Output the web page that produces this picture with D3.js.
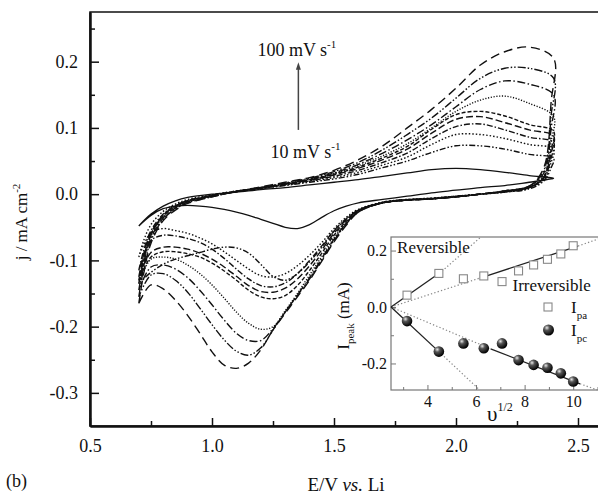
<!DOCTYPE html>
<html lang="en">
<head>
<meta charset="UTF-8">
<title>CV at different scan rates</title>
<script src="https://d3js.org/d3.v7.min.js"></script>
<style>
  body { margin: 0; background: #fff; }
  svg text { font-family: "Liberation Serif", "Times New Roman", serif; fill: #111; }
</style>
</head>
<body>
<div id="chart"></div>
<script>
// scan rates, mV s-1 (one CV loop each)
const scanRates = [10, 20, 30, 40, 50, 60, 70, 80, 90, 100];

// anodic sweep, E in V vs Li, j in mA cm-2 (one row per scan rate)
const anodicE = [0.70, 0.72, 0.75, 0.80, 0.85, 0.90, 1.00, 1.10, 1.20, 1.30, 1.40, 1.50, 1.60, 1.70, 1.80, 1.90, 2.00, 2.10, 2.20, 2.30, 2.40];
const anodicJ = [
  [-0.048, -0.040, -0.030, -0.018, -0.010, -0.005, 0.000, 0.003, 0.007, 0.010, 0.014, 0.018, 0.022, 0.027, 0.032, 0.037, 0.039, 0.037, 0.033, 0.028, 0.024],
  [-0.135, -0.098, -0.062, -0.032, -0.018, -0.010, -0.002, 0.004, 0.008, 0.013, 0.018, 0.023, 0.030, 0.040, 0.050, 0.063, 0.073, 0.073, 0.068, 0.060, 0.054],
  [-0.095, -0.070, -0.046, -0.026, -0.015, -0.008, -0.001, 0.005, 0.009, 0.014, 0.019, 0.025, 0.033, 0.044, 0.056, 0.075, 0.090, 0.090, 0.084, 0.075, 0.068],
  [-0.115, -0.085, -0.055, -0.030, -0.017, -0.010, -0.002, 0.004, 0.009, 0.014, 0.020, 0.027, 0.036, 0.048, 0.062, 0.084, 0.102, 0.106, 0.097, 0.086, 0.078],
  [-0.125, -0.090, -0.058, -0.032, -0.018, -0.010, -0.002, 0.004, 0.009, 0.015, 0.021, 0.029, 0.039, 0.052, 0.068, 0.092, 0.113, 0.117, 0.108, 0.097, 0.088],
  [-0.130, -0.095, -0.060, -0.033, -0.019, -0.011, -0.003, 0.004, 0.009, 0.015, 0.022, 0.030, 0.041, 0.055, 0.072, 0.098, 0.120, 0.125, 0.118, 0.105, 0.095],
  [-0.135, -0.100, -0.063, -0.034, -0.020, -0.011, -0.003, 0.004, 0.010, 0.016, 0.022, 0.031, 0.043, 0.058, 0.076, 0.100, 0.125, 0.142, 0.148, 0.137, 0.117],
  [-0.145, -0.105, -0.066, -0.036, -0.021, -0.012, -0.003, 0.004, 0.010, 0.016, 0.023, 0.032, 0.045, 0.062, 0.082, 0.105, 0.132, 0.158, 0.171, 0.166, 0.150],
  [-0.155, -0.112, -0.070, -0.038, -0.022, -0.013, -0.004, 0.004, 0.010, 0.017, 0.024, 0.034, 0.048, 0.067, 0.090, 0.115, 0.145, 0.175, 0.190, 0.190, 0.175],
  [-0.165, -0.120, -0.074, -0.040, -0.024, -0.014, -0.004, 0.004, 0.011, 0.018, 0.025, 0.036, 0.052, 0.073, 0.100, 0.128, 0.160, 0.195, 0.215, 0.222, 0.205]
];

// cathodic sweep back to 0.7 V
const cathodicE = [2.39, 2.36, 2.30, 2.20, 2.10, 2.00, 1.90, 1.80, 1.70, 1.60, 1.55, 1.50, 1.45, 1.40, 1.35, 1.30, 1.25, 1.20, 1.15, 1.10, 1.05, 1.00, 0.95, 0.90, 0.85, 0.80, 0.75, 0.70];
const cathodicJ = [
  [0.023, 0.021, 0.018, 0.013, 0.010, 0.006, 0.002, -0.003, -0.008, -0.013, -0.018, -0.025, -0.035, -0.046, -0.052, -0.050, -0.044, -0.038, -0.032, -0.027, -0.023, -0.020, -0.018, -0.017, -0.018, -0.022, -0.032, -0.048],
  [0.040, 0.020, 0.008, 0.003, 0.000, -0.003, -0.006, -0.008, -0.012, -0.024, -0.038, -0.056, -0.080, -0.102, -0.120, -0.130, -0.124, -0.106, -0.089, -0.081, -0.080, -0.083, -0.088, -0.093, -0.098, -0.106, -0.118, -0.135],
  [0.048, 0.022, 0.009, 0.003, 0.000, -0.003, -0.006, -0.008, -0.012, -0.023, -0.035, -0.052, -0.073, -0.092, -0.108, -0.120, -0.125, -0.123, -0.113, -0.100, -0.087, -0.075, -0.066, -0.059, -0.055, -0.052, -0.058, -0.095],
  [0.055, 0.024, 0.010, 0.004, 0.000, -0.004, -0.007, -0.009, -0.013, -0.024, -0.037, -0.055, -0.078, -0.100, -0.120, -0.134, -0.140, -0.138, -0.128, -0.113, -0.097, -0.083, -0.073, -0.067, -0.063, -0.062, -0.070, -0.115],
  [0.062, 0.025, 0.010, 0.004, 0.000, -0.004, -0.007, -0.009, -0.013, -0.025, -0.039, -0.059, -0.084, -0.108, -0.128, -0.142, -0.148, -0.147, -0.138, -0.124, -0.110, -0.098, -0.089, -0.083, -0.080, -0.080, -0.088, -0.125],
  [0.068, 0.026, 0.010, 0.004, 0.000, -0.004, -0.007, -0.009, -0.013, -0.025, -0.041, -0.062, -0.089, -0.115, -0.138, -0.153, -0.158, -0.155, -0.145, -0.130, -0.116, -0.104, -0.095, -0.090, -0.087, -0.087, -0.095, -0.130],
  [0.080, 0.028, 0.011, 0.004, 0.000, -0.004, -0.007, -0.009, -0.013, -0.026, -0.043, -0.066, -0.094, -0.122, -0.150, -0.176, -0.200, -0.204, -0.195, -0.178, -0.157, -0.137, -0.120, -0.107, -0.098, -0.095, -0.098, -0.135],
  [0.100, 0.032, 0.012, 0.005, 0.000, -0.004, -0.007, -0.009, -0.013, -0.026, -0.044, -0.068, -0.097, -0.126, -0.152, -0.178, -0.203, -0.221, -0.221, -0.210, -0.190, -0.167, -0.145, -0.126, -0.113, -0.107, -0.110, -0.145],
  [0.120, 0.036, 0.012, 0.005, 0.000, -0.004, -0.007, -0.009, -0.013, -0.027, -0.045, -0.070, -0.099, -0.128, -0.153, -0.178, -0.205, -0.232, -0.243, -0.237, -0.220, -0.197, -0.172, -0.148, -0.130, -0.120, -0.122, -0.155],
  [0.140, 0.040, 0.012, 0.005, 0.000, -0.004, -0.007, -0.009, -0.013, -0.027, -0.047, -0.072, -0.101, -0.130, -0.155, -0.180, -0.205, -0.235, -0.255, -0.263, -0.258, -0.238, -0.210, -0.183, -0.160, -0.143, -0.137, -0.165]
];

// inset: peak currents vs square root of scan rate
const sqrtRate = [3.16, 4.47, 5.48, 6.32, 7.07, 7.75, 8.37, 8.94, 9.49, 10.0];
const ipa = [0.042, 0.119, 0.100, 0.110, 0.090, 0.128, 0.149, 0.169, 0.188, 0.217];
const ipc = [-0.050, -0.158, -0.129, -0.146, -0.129, -0.188, -0.205, -0.215, -0.235, -0.264];
// fitted lines [[x0, y0], [x1, y1]]
const fitSolid = [
  [[2.5, 0], [4.47, 0.119]],
  [[6.32, 0.107], [10.2, 0.216]],
  [[2.5, 0], [4.47, -0.158]],
  [[6.6, -0.148], [10.28, -0.272]]
];
const fitDotted = [
  [[4.6, 0.127], [6.2, 0.248]],
  [[2.5, 0], [6.32, 0.107]],
  [[10.2, 0.216], [11.1, 0.243]],
  [[4.47, -0.158], [6.15, -0.294]],
  [[2.5, 0], [6.6, -0.148]],
  [[10.28, -0.272], [11.0, -0.294]]
];

const yTicks = [-0.3, -0.2, -0.1, 0.0, 0.1, 0.2];
const yMinor = [-0.25, -0.15, -0.05, 0.05, 0.15, 0.25];
const xTicks = [0.5, 1.0, 1.5, 2.0, 2.5];
const xMinor = [0.75, 1.25, 1.75, 2.25];
const insetYTicks = [-0.2, 0.0, 0.2];
const insetYMinor = [-0.1, 0.1];
const insetXTicks = [4, 6, 8, 10];
const insetXMinor = [3, 5, 7, 9, 11];

// line styles per scan rate
const dashes = ["", "6,2,1.5,2,1.5,2", "1.5,2", "6,2,1.5,2", "7,3", "4,2", "1.2,1.6", "8,2.5,1.5,2.5", "8,2,1.5,2,1.5,2", "9,5"];

const W = 598, H = 497;
const svg = d3.select("#chart").append("svg").attr("width", W).attr("height", H);

const x = d3.scaleLinear().domain([0.5, 2.6]).range([90, 602.4]);
const y = d3.scaleLinear().domain([-0.35, 0.275]).range([426, 12]);

// frame (right side is off the picture)
svg.append("rect")
  .attr("x", x(0.5)).attr("y", y(0.275))
  .attr("width", 620).attr("height", y(-0.35) - y(0.275))
  .attr("fill", "none").attr("stroke", "#111").attr("stroke-width", 1.5);

// CV loops
const line = d3.line()
  .x(d => x(d[0])).y(d => y(d[1]))
  .curve(d3.curveCatmullRom.alpha(0.5));

const loops = scanRates.map((r, i) => {
  const pts = anodicE.map((e, k) => [e, anodicJ[i][k]])
    .concat(cathodicE.map((e, k) => [e, cathodicJ[i][k]]));
  return { rate: r, pts: pts, dash: dashes[i] };
});

svg.append("g").selectAll("path")
  .data(loops)
  .join("path")
  .attr("d", d => line(d.pts))
  .attr("fill", "none")
  .attr("stroke", "#111")
  .attr("stroke-width", d => d.rate === 10 ? 1.3 : 1.4)
  .attr("stroke-dasharray", d => d.dash);

// axes
const fmt = d => d.toFixed(1);
svg.append("g").attr("transform", `translate(${x(0.5)},0)`)
  .call(d3.axisLeft(y).tickValues(yTicks).tickFormat(fmt).tickSize(-9).tickSizeOuter(0).tickPadding(12));
svg.append("g").attr("transform", `translate(${x(0.5)},0)`)
  .call(d3.axisLeft(y).tickValues(yMinor).tickFormat("").tickSize(-5).tickSizeOuter(0));
svg.append("g").attr("transform", `translate(0,${y(-0.35)})`)
  .call(d3.axisBottom(x).tickValues(xTicks).tickFormat(fmt).tickSize(-8).tickSizeOuter(0).tickPadding(13));
svg.append("g").attr("transform", `translate(0,${y(-0.35)})`)
  .call(d3.axisBottom(x).tickValues(xMinor).tickFormat("").tickSize(-5).tickSizeOuter(0));

svg.selectAll(".domain").attr("stroke", "#111").attr("stroke-width", 2);
svg.selectAll(".tick line").attr("stroke", "#111").attr("stroke-width", 1.5);
svg.selectAll(".tick text").attr("font-size", 18).attr("font-family", "Liberation Serif").attr("fill", "#111");

// axis titles
const yTitle = svg.append("text")
  .attr("transform", "translate(27,222) rotate(-90)")
  .attr("text-anchor", "middle").attr("font-size", 17);
yTitle.append("tspan").text("j / mA cm");
yTitle.append("tspan").attr("dy", -7).attr("font-size", 11).text("-2");

const xTitle = svg.append("text")
  .attr("x", 346).attr("y", 491)
  .attr("text-anchor", "middle").attr("font-size", 19);
xTitle.append("tspan").text("E/V ");
xTitle.append("tspan").attr("font-style", "italic").text("vs.");
xTitle.append("tspan").text(" Li");

svg.append("text").attr("x", 6).attr("y", 487).attr("font-size", 18).text("(b)");

// scan-rate annotation
function rateLabel(e, j, txt) {
  const t = svg.append("text").attr("x", x(e)).attr("y", y(j)).attr("font-size", 18);
  t.append("tspan").text(txt);
  t.append("tspan").attr("dy", -8).attr("font-size", 11).text("-1");
}
rateLabel(1.186, 0.208, "100 mV s");
rateLabel(1.24, 0.055, "10 mV s");

const arrowE = 1.354;
svg.append("line")
  .attr("x1", x(arrowE)).attr("x2", x(arrowE))
  .attr("y1", y(0.097)).attr("y2", y(0.19))
  .attr("stroke", "#444").attr("stroke-width", 1.5);
svg.append("path")
  .attr("d", `M${x(arrowE) - 2.5},${y(0.188)} L${x(arrowE)},${y(0.199)} L${x(arrowE) + 2.5},${y(0.188)} Z`)
  .attr("fill", "#444");

// ---- inset ----
const xi = d3.scaleLinear().domain([2.5, 11]).range([391, 597.5]);
const yi = d3.scaleLinear().domain([-0.294, 0.248]).range([390, 237]);

svg.append("rect")
  .attr("x", xi(2.5)).attr("y", yi(0.248))
  .attr("width", 240).attr("height", yi(-0.294) - yi(0.248))
  .attr("fill", "#fff").attr("stroke", "#777").attr("stroke-width", 1.2);

const inset = svg.append("g");
inset.append("g").attr("transform", `translate(${xi(2.5)},0)`)
  .call(d3.axisLeft(yi).tickValues(insetYTicks).tickFormat(fmt).tickSize(-5).tickSizeOuter(0).tickPadding(4));
inset.append("g").attr("transform", `translate(${xi(2.5)},0)`)
  .call(d3.axisLeft(yi).tickValues(insetYMinor).tickFormat("").tickSize(-3).tickSizeOuter(0));
inset.append("g").attr("transform", `translate(0,${yi(-0.294)})`)
  .call(d3.axisBottom(xi).tickValues(insetXTicks).tickFormat(d => d).tickSize(-5).tickSizeOuter(0).tickPadding(6));
inset.append("g").attr("transform", `translate(0,${yi(-0.294)})`)
  .call(d3.axisBottom(xi).tickValues(insetXMinor).tickFormat("").tickSize(-3).tickSizeOuter(0));
inset.selectAll(".domain").attr("stroke", "none");
inset.selectAll(".tick line").attr("stroke", "#777").attr("stroke-width", 1);
inset.selectAll(".tick text").attr("font-size", 16).attr("font-family", "Liberation Serif").attr("fill", "#222");

const iline = d3.line().x(d => xi(d[0])).y(d => yi(d[1]));
inset.append("g").selectAll("path").data(fitDotted).join("path")
  .attr("d", iline).attr("fill", "none")
  .attr("stroke", "#888").attr("stroke-width", 1.2).attr("stroke-dasharray", "1.3,2.2");
inset.append("g").selectAll("path").data(fitSolid).join("path")
  .attr("d", iline).attr("fill", "none")
  .attr("stroke", "#222").attr("stroke-width", 1.3);

// sphere shading
const defs = svg.append("defs");
const grad = defs.append("radialGradient").attr("id", "ball")
  .attr("cx", "35%").attr("cy", "30%").attr("r", "70%");
grad.append("stop").attr("offset", "0%").attr("stop-color", "#e8e8e8");
grad.append("stop").attr("offset", "35%").attr("stop-color", "#555");
grad.append("stop").attr("offset", "100%").attr("stop-color", "#000");

inset.append("g").selectAll("rect").data(sqrtRate).join("rect")
  .attr("x", d => xi(d) - 4).attr("y", (d, i) => yi(ipa[i]) - 4)
  .attr("width", 8).attr("height", 8)
  .attr("fill", "#fff").attr("stroke", "#888").attr("stroke-width", 1.1);
inset.append("g").selectAll("circle").data(sqrtRate).join("circle")
  .attr("cx", d => xi(d)).attr("cy", (d, i) => yi(ipc[i]))
  .attr("r", 5.3).attr("fill", "url(#ball)");

// inset labels
inset.append("text").attr("x", xi(2.75)).attr("y", yi(0.19)).attr("font-size", 17).text("Reversible");
inset.append("text").attr("x", xi(7.5)).attr("y", yi(0.058)).attr("font-size", 17).text("Irreversible");

inset.append("rect").attr("x", 544).attr("y", 303).attr("width", 8).attr("height", 8)
  .attr("fill", "#fff").attr("stroke", "#888").attr("stroke-width", 1.1);
inset.append("circle").attr("cx", 548.5).attr("cy", 330).attr("r", 5.5).attr("fill", "url(#ball)");
function legendLabel(yy, sub) {
  const t = inset.append("text").attr("x", 571).attr("y", yy).attr("font-size", 17);
  t.append("tspan").text("I");
  t.append("tspan").attr("dy", 6).attr("font-size", 11).text(sub);
}
legendLabel(313, "pa");
legendLabel(336, "pc");

const iyTitle = inset.append("text")
  .attr("transform", "translate(349,316) rotate(-90)")
  .attr("text-anchor", "middle").attr("font-size", 17);
iyTitle.append("tspan").text("I");
iyTitle.append("tspan").attr("dy", 5).attr("font-size", 11).text("peak");
iyTitle.append("tspan").attr("dy", -5).text(" (mA)");

const ixTitle = inset.append("text").attr("x", 487).attr("y", 421).attr("font-size", 21);
ixTitle.append("tspan").text("υ");
ixTitle.append("tspan").attr("dy", -10).attr("font-size", 12).text("1/2");
</script>
</body>
</html>
